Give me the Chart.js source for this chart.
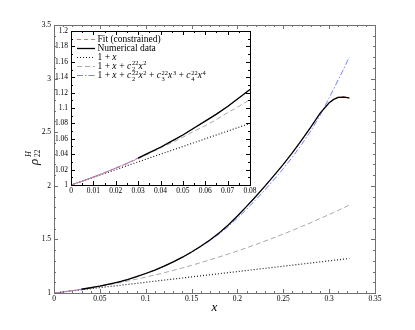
<!DOCTYPE html>
<html><head><meta charset="utf-8">
<script src="https://cdn.jsdelivr.net/npm/chart.js@4.4.0/dist/chart.umd.min.js"></script>
<style>
html,body{margin:0;padding:0;background:#fff;}
#wrap{position:relative;width:415px;height:330px;overflow:hidden;}
canvas{position:absolute;left:0;top:0;}
</style></head><body>
<div id="wrap"><canvas id="main" width="415" height="330"></canvas><canvas id="inset" width="415" height="330"></canvas></div>
<script>
// ---- data ----
const xs = [0,0.005,0.01,0.015,0.02,0.025,0.03,0.035,0.04,0.045,0.05,0.055,0.06,0.065,0.07,0.075,0.08,
  0.09,0.10,0.11,0.12,0.13,0.14,0.15,0.16,0.17,0.18,0.19,0.20,0.21,0.22,0.23,0.24,0.25,0.26,0.27,0.28,0.29,0.30,
  0.305,0.31,0.315,0.32,0.322];
const numericalData = [null,null,null,null,null,null,1.035,1.042,1.049,1.057,1.065,1.074,1.083,1.092,1.102,1.113,1.124,
  1.152,1.182,1.214,1.250,1.290,1.334,1.383,1.436,1.494,1.560,1.635,1.718,1.808,1.900,1.997,2.097,2.200,2.310,2.425,2.548,2.675,2.775,
  2.806,2.824,2.828,2.822,2.819];
const fitConstrained = [1.000,1.005,1.0105,1.016,1.022,1.028,1.035,1.042,1.049,1.057,1.065,1.074,1.083,1.092,1.102,1.113,1.124,
  1.152,1.182,1.214,1.250,1.290,1.334,1.383,1.436,1.494,1.560,1.635,1.718,1.808,1.900,1.997,2.097,2.200,2.310,2.425,2.548,2.675,2.775,
  2.808,2.828,2.833,2.826,2.820];
const linearApprox = [1.000,1.005,1.010,1.015,1.020,1.025,1.030,1.035,1.040,1.045,1.050,1.055,1.060,1.065,1.070,1.075,1.080,
  1.090,1.100,1.110,1.120,1.130,1.140,1.150,1.160,1.170,1.180,1.190,1.200,1.210,1.220,1.230,1.240,1.250,1.260,1.270,1.280,1.290,1.300,
  1.305,1.310,1.315,1.320,1.322];
const quadApprox = [1.000,1.005,1.010,1.016,1.022,1.028,1.034,1.041,1.048,1.055,1.062,1.070,1.077,1.085,1.094,1.102,1.111,
  1.129,1.148,1.168,1.189,1.211,1.234,1.258,1.283,1.309,1.336,1.363,1.392,1.422,1.452,1.484,1.516,1.550,1.584,1.620,1.656,1.694,1.732,
  1.752,1.771,1.791,1.812,1.820];
const quarticApprox = [1.000,1.005,1.0105,1.016,1.022,1.028,1.035,1.042,1.049,1.057,1.065,1.074,1.083,1.092,1.102,1.113,1.124,
  1.152,1.182,1.213,1.248,1.288,1.331,1.380,1.432,1.488,1.550,1.620,1.698,1.782,1.870,1.962,2.058,2.160,2.268,2.385,2.512,2.655,2.820,
  2.905,2.990,3.075,3.165,3.200];

const mainXTicks = [0,0.05,0.1,0.15,0.2,0.25,0.3,0.35];
const mainXTickLabels = ['0','0.05','0.1','0.15','0.2','0.25','0.3','0.35'];
const mainYTicks = [1,1.5,2,2.5,3,3.5];
const mainYTickLabels = ['1','1.5','2','2.5','3','3.5'];
const insetXTicks = [0,0.01,0.02,0.03,0.04,0.05,0.06,0.07,0.08];
const insetXTickLabels = ['0','0.01','0.02','0.03','0.04','0.05','0.06','0.07','0.08'];
const insetYTicks = [1,1.02,1.04,1.06,1.08,1.1,1.12,1.14,1.16,1.18,1.2];
const insetYTickLabels = ['1','1.02','1.04','1.06','1.08','1.1','1.12','1.14','1.16','1.18','1.2'];
const seriesNames = ['Fit (constrained)','Numerical data','1 + x','1 + x + c^{22}_{2}x^{2}',
  '1 + x + c^{22}_{2}x^{2} + c^{22}_{3}x^{3} + c^{22}_{4}x^{4}'];
const xTitle = 'x';
const yTitleParts = ['\u03C1','H','22'];

// ---- styles ----
const SERIF = '"Liberation Serif", "DejaVu Serif", serif';
const styles = {
  numerical: {borderColor:'#000000', borderWidth:1.3, borderDash:[]},
  fit:       {borderColor:'#f07070', borderWidth:1, borderDash:[4,3]},
  linear:    {borderColor:'#1a1a1a', borderWidth:1.2, borderDash:[1,2]},
  quad:      {borderColor:'#a8a8a8', borderWidth:1, borderDash:[5,3]},
  quartic:   {borderColor:'#7080ff', borderWidth:1, borderDash:[6,2,1.5,2]}
};
const pts = vals => xs.map((x,i)=>({x, y: vals[i]})).filter(p => p.y !== null);
function makeDatasets(){
  const mk = (label, vals, st) => Object.assign({label, data: pts(vals), pointRadius:0, fill:false, tension:0}, st);
  return [
    mk(seriesNames[1], numericalData, styles.numerical),
    mk(seriesNames[0], fitConstrained, styles.fit),
    mk(seriesNames[4], quarticApprox, styles.quartic),
    mk(seriesNames[3], quadApprox, styles.quad),
    mk(seriesNames[2], linearApprox, styles.linear)
  ];
}

// ---- plugins ----
const frameTicks = {
  id:'frameTicks',
  beforeDatasetsDraw(chart, args, o){
    if (o.fill) { const a = chart.chartArea; const c = chart.ctx; c.save(); c.fillStyle = '#fff'; c.fillRect(a.left, a.top, a.right-a.left, a.bottom-a.top); c.restore(); }
  },
  afterDraw(chart, args, o){
    const {ctx, chartArea:a, scales:{x, y}} = chart;
    const r = v => Math.round(v) + 0.5;
    ctx.save();
    ctx.strokeStyle = o.color; ctx.lineWidth = 1;
    ctx.beginPath();
    const vals = (min, max, step) => { const out = []; const n = Math.round((max-min)/step); for (let i=0;i<=n;i++) out.push(min + i*step); return out; };
    const xMin = vals(x.min, x.max, o.xMinor), yMin = vals(y.min, y.max, o.yMinor);
    const xMaj = x.ticks.map(t=>t.value), yMaj = y.ticks.map(t=>t.value);
    const drawX = (v, len) => { const p = r(x.getPixelForValue(v)); ctx.moveTo(p, a.bottom); ctx.lineTo(p, a.bottom - len); ctx.moveTo(p, a.top); ctx.lineTo(p, a.top + len); };
    const drawY = (v, len) => { const p = r(y.getPixelForValue(v)); ctx.moveTo(a.left, p); ctx.lineTo(a.left + len, p); ctx.moveTo(a.right, p); ctx.lineTo(a.right - len, p); };
    xMin.forEach(v => drawX(v, o.minorLen)); yMin.forEach(v => drawY(v, o.minorLen));
    xMaj.forEach(v => drawX(v, o.majorLen)); yMaj.forEach(v => drawY(v, o.majorLen));
    ctx.stroke();
    ctx.lineWidth = o.frameWidth;
    ctx.strokeRect(r(a.left), r(a.top), Math.round(a.right) - Math.round(a.left), Math.round(a.bottom) - Math.round(a.top));
    ctx.restore();
  }
};

const yTitlePlugin = {
  id:'yTitlePlugin',
  afterDraw(chart, args, o){
    if (!o.show) return;
    const ctx = chart.ctx;
    ctx.save();
    ctx.translate(36, 157); ctx.rotate(-Math.PI/2);
    ctx.fillStyle = '#000'; ctx.textBaseline = 'alphabetic'; ctx.textAlign = 'left';
    ctx.font = 'italic 13px ' + SERIF;
    ctx.fillText(yTitleParts[0], -8, 1.5);
    ctx.font = 'italic 8px ' + SERIF;
    ctx.fillText(yTitleParts[1], 0, -5);
    ctx.font = '7.5px ' + SERIF;
    ctx.fillText(yTitleParts[2], 0, 4);
    ctx.restore();
  }
};

function drawLabel(ctx, str, x, y, size, math){
  ctx.fillStyle = '#000'; ctx.textBaseline = 'alphabetic'; ctx.textAlign = 'left';
  if (!math) { ctx.font = size + 'px ' + SERIF; ctx.fillText(str, x, y); return; }
  const re = /\^\{([^}]*)\}|_\{([^}]*)\}|([a-zA-Z])|([^a-zA-Z^_]+)/g;
  let cx = x, sStart = null, sW = 0, m;
  const ss = size * 0.68;
  while ((m = re.exec(str)) !== null) {
    if (m[1] !== undefined || m[2] !== undefined) {
      const sup = m[1] !== undefined; const t = sup ? m[1] : m[2];
      ctx.font = ss + 'px ' + SERIF;
      const w = ctx.measureText(t).width;
      if (sStart === null) { sStart = cx; sW = 0; }
      ctx.fillText(t, sStart + 0.3, y + (sup ? -size*0.38 : size*0.25));
      sW = Math.max(sW, w + 0.3); cx = sStart + sW;
    } else {
      sStart = null;
      ctx.font = (m[3] ? 'italic ' : '') + size + 'px ' + SERIF;
      const t = m[3] || m[4];
      ctx.fillText(t, cx, y);
      cx += ctx.measureText(t).width + (m[3] ? 0.4 : 0);
    }
  }
}

const insetLegend = {
  id:'insetLegend',
  afterDraw(chart, args, o){
    const ctx = chart.ctx;
    const rows = [39, 48, 56.5, 65.5, 75];
    const order = [1, 0, 4, 3, 2]; // dataset index for each legend row
    const names = [seriesNames[0], seriesNames[1], seriesNames[2], seriesNames[3], seriesNames[4]];
    ctx.save();
    rows.forEach((yy, i) => {
      const ds = chart.data.datasets[order[i]];
      ctx.save();
      ctx.strokeStyle = ds.borderColor; ctx.lineWidth = ds.borderWidth;
      ctx.setLineDash(ds.borderDash || []);
      ctx.beginPath(); ctx.moveTo(77, Math.round(yy)+0.5); ctx.lineTo(95, Math.round(yy)+0.5); ctx.stroke();
      ctx.restore();
      drawLabel(ctx, names[i], 97.5, yy + 3.2, 9.5, i >= 2);
    });
    ctx.restore();
  }
};

const tickFont = {family:'Liberation Serif', size:7.5};

// ---- main chart ----
new Chart(document.getElementById('main'), {
  type:'line',
  data:{datasets: makeDatasets()},
  plugins:[frameTicks, yTitlePlugin],
  options:{
    responsive:false, animation:false, devicePixelRatio:1,
    layout:{padding:{top:25, right:40, left:0, bottom:0}},
    plugins:{legend:{display:false}, tooltip:{enabled:false},
      frameTicks:{color:'#707070', frameWidth:1, xMinor:0.01, yMinor:0.1, majorLen:4, minorLen:2},
      yTitlePlugin:{show:true}},
    scales:{
      x:{type:'linear', min:0, max:0.35,
        afterBuildTicks: s => { s.ticks = mainXTicks.map(v => ({value:v})); },
        afterFit: s => { s.height = 37; },
        grid:{display:false, drawTicks:false}, border:{display:false},
        ticks:{autoSkip:false, maxRotation:0, padding:2, color:'#000', font:tickFont, callback:(v,i)=>mainXTickLabels[i]},
        title:{display:true, text:xTitle, color:'#000', font:{family:'Liberation Serif', size:13, style:'italic'}, padding:{top:0,bottom:15}}
      },
      y:{type:'linear', min:1, max:3.5,
        afterBuildTicks: s => { s.ticks = mainYTicks.map(v => ({value:v})); },
        afterFit: s => { s.width = 54; },
        grid:{display:false, drawTicks:false}, border:{display:false},
        ticks:{autoSkip:false, padding:3, color:'#000', font:tickFont, callback:(v,i)=>mainYTickLabels[i]}
      }
    }
  }
});

// ---- inset chart ----
new Chart(document.getElementById('inset'), {
  type:'line',
  data:{datasets: makeDatasets()},
  plugins:[frameTicks, insetLegend],
  options:{
    responsive:false, animation:false, devicePixelRatio:1,
    layout:{padding:{top:31, right:165, left:0, bottom:0}},
    plugins:{legend:{display:false}, tooltip:{enabled:false},
      frameTicks:{color:'#000', frameWidth:1, xMinor:0.005, yMinor:0.01, majorLen:4, minorLen:2, fill:true}},
    scales:{
      x:{type:'linear', min:0, max:0.08,
        afterBuildTicks: s => { s.ticks = insetXTicks.map(v => ({value:v})); },
        afterFit: s => { s.height = 145; },
        grid:{display:false, drawTicks:false}, border:{display:false},
        ticks:{autoSkip:false, maxRotation:0, padding:1.5, color:'#000', font:tickFont, callback:(v,i)=>insetXTickLabels[i]}
      },
      y:{type:'linear', min:1, max:1.2,
        afterBuildTicks: s => { s.ticks = insetYTicks.map(v => ({value:v})); },
        afterFit: s => { s.width = 71; },
        grid:{display:false, drawTicks:false}, border:{display:false},
        ticks:{autoSkip:false, padding:3, color:'#000', font:tickFont, callback:(v,i)=>insetYTickLabels[i]}
      }
    }
  }
});
</script>
</body></html>
